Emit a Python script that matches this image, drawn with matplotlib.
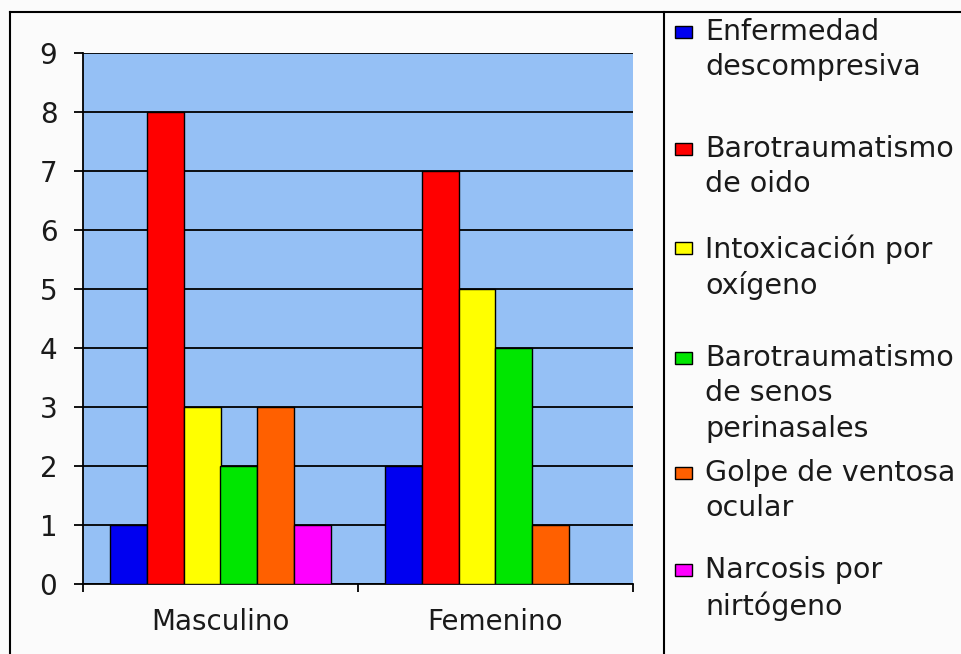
import numpy as np
import matplotlib
matplotlib.use("Agg")
import matplotlib.pyplot as plt
from matplotlib.lines import Line2D
from matplotlib.patches import Rectangle

plt.rcParams['font.family'] = ['DejaVu Sans']

# ---------------- data ----------------
categories = ["Masculino", "Femenino"]
series_labels = ["Enfermedad\ndescompresiva", "Barotraumatismo\nde oido",
                 "Intoxicación por\noxígeno", "Barotraumatismo\nde senos\nperinasales",
                 "Golpe de ventosa\nocular", "Narcosis por\nnirtógeno"]
enfermedad = [1, 2]
barotrauma_oido = [8, 7]
intoxicacion = [3, 5]
barotrauma_senos = [2, 4]
golpe_ventosa = [3, 1]
narcosis = [1, 0]
series = [enfermedad, barotrauma_oido, intoxicacion, barotrauma_senos, golpe_ventosa, narcosis]

colors = ["#0000F0", "#FF0000", "#FFFF00", "#00E600", "#FF6000", "#FF00FF"]
PLOT_BG = "#95C0F5"

W, H = 962, 654
fig = plt.figure(figsize=(W / 100, H / 100), dpi=100)
fig.patch.set_facecolor("#fbfbfb")


def fx(px):
    return px / W


def fy(py):
    return 1 - py / H


ax = fig.add_axes([fx(83), fy(584), fx(633) - fx(83), fy(53) - fy(584)])
ax.set_facecolor(PLOT_BG)

x = np.arange(len(categories))
bw = 0.1345
n = len(series)
for k, vals in enumerate(series):
    offs = (k - (n - 1) / 2) * bw
    ax.bar(x + offs, vals, width=bw, color=colors[k], edgecolor="black", linewidth=1.0, zorder=3)

ax.set_xlim(-0.5, len(categories) - 0.5)
ax.set_ylim(0, 9)
ax.set_yticks(range(0, 10))
ax.yaxis.grid(True, color="black", linewidth=1.3, zorder=1)
ax.set_axisbelow(True)
for s in ("top", "right"):
    ax.spines[s].set_visible(False)
ax.spines["left"].set_linewidth(1.3)
ax.spines["bottom"].set_linewidth(1.3)
ax.tick_params(axis="y", direction="out", length=6.5, width=1.3, pad=12,
               labelsize=20, labelcolor="#1a1a1a")

ax.set_xticks(x)
ax.set_xticklabels(categories)
ax.set_xticks(np.arange(-0.5, len(categories)), minor=True)
ax.tick_params(axis="x", which="major", length=0, pad=17, labelsize=20, labelcolor="#1a1a1a")
ax.tick_params(axis="x", which="minor", direction="out", length=6, width=1.3)

# outer chart border + legend separator
fig.add_artist(Line2D([fx(10), 1], [fy(12), fy(12)], color="black", linewidth=1.5))
fig.add_artist(Line2D([fx(10), fx(10)], [fy(12), 0], color="black", linewidth=1.5))
fig.add_artist(Line2D([fx(664), fx(664)], [fy(12), 0], color="black", linewidth=1.5))

# legend
legend_y = [34, 151, 250, 360, 475, 572]
for lab, col, yc in zip(series_labels, colors, legend_y):
    fig.add_artist(Rectangle((fx(675), fy(yc + 4)), fx(17), fy(0) - fy(12),
                             facecolor=col, edgecolor="black", linewidth=1.0))
    fig.text(fx(705), fy(yc - 16), lab, fontsize=20.5, va="top", ha="left",
             linespacing=1.33, color="#1a1a1a")

fig.savefig("out.png", dpi=100, facecolor=fig.get_facecolor())
